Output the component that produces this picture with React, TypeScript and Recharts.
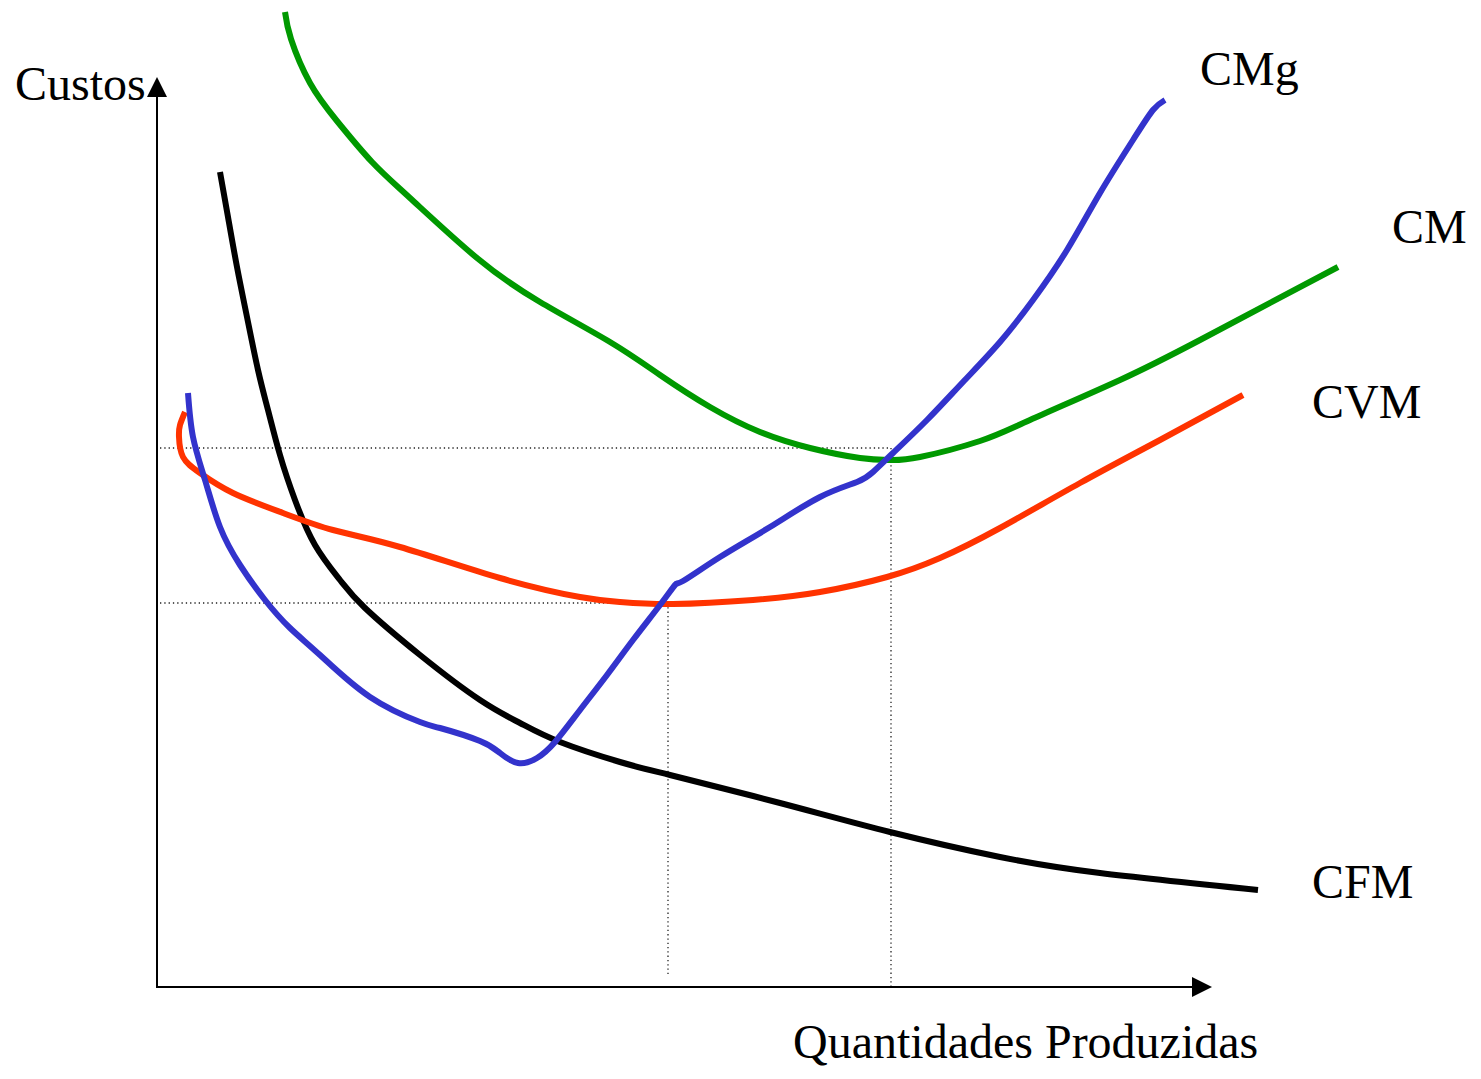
import React from "react";
import { LineChart, Line, XAxis, YAxis, ReferenceLine, ReferenceDot } from "recharts";

// Units: quantity (x) and cost (y), origin at the axes crossing
const cfm = [
  { x: 6.3, y: 81.5 }, { x: 7.1, y: 77.0 }, { x: 8.0, y: 72.0 }, { x: 9.0, y: 67.0 },
  { x: 10.1, y: 61.7 }, { x: 11.1, y: 57.7 }, { x: 12.3, y: 53.2 }, { x: 13.8, y: 48.7 },
  { x: 15.8, y: 44.2 }, { x: 18.3, y: 40.7 }, { x: 20.8, y: 37.9 }, { x: 26.3, y: 33.2 },
  { x: 32.3, y: 28.7 }, { x: 36.3, y: 26.4 }, { x: 40.3, y: 24.5 }, { x: 46.3, y: 22.5 },
  { x: 51.3, y: 21.2 }, { x: 62.3, y: 18.4 }, { x: 73.3, y: 15.5 }, { x: 84.3, y: 13.0 },
  { x: 94.3, y: 11.4 }, { x: 110.1, y: 9.7 },
];

const cmg = [
  { x: 3.1, y: 59.4 }, { x: 3.6, y: 55.0 }, { x: 4.8, y: 50.7 }, { x: 6.3, y: 46.0 },
  { x: 8.3, y: 42.2 }, { x: 10.8, y: 38.7 }, { x: 13.3, y: 35.9 }, { x: 16.3, y: 33.2 },
  { x: 21.3, y: 29.0 }, { x: 26.3, y: 26.5 }, { x: 28.3, y: 25.9 }, { x: 32.3, y: 24.6 },
  { x: 34.3, y: 23.4 }, { x: 36.1, y: 22.4 }, { x: 38.0, y: 22.9 }, { x: 39.8, y: 24.5 },
  { x: 42.3, y: 27.7 }, { x: 45.0, y: 31.2 }, { x: 47.6, y: 34.7 }, { x: 50.3, y: 38.2 },
  { x: 51.8, y: 40.2 }, { x: 52.6, y: 40.6 }, { x: 56.3, y: 43.0 }, { x: 61.3, y: 46.0 },
  { x: 66.3, y: 49.0 }, { x: 70.0, y: 50.5 }, { x: 71.6, y: 51.5 }, { x: 73.6, y: 53.4 },
  { x: 77.0, y: 56.7 }, { x: 80.6, y: 60.5 }, { x: 84.3, y: 64.5 }, { x: 87.6, y: 68.7 },
  { x: 91.0, y: 73.7 }, { x: 94.3, y: 79.4 }, { x: 97.6, y: 84.7 }, { x: 99.6, y: 87.7 },
  { x: 100.8, y: 88.7 },
];

const cvm = [
  { x: 2.8, y: 57.5 }, { x: 2.3, y: 56.2 }, { x: 2.2, y: 55.0 }, { x: 2.6, y: 53.0 },
  { x: 4.3, y: 51.4 }, { x: 7.6, y: 49.4 }, { x: 12.6, y: 47.4 }, { x: 17.6, y: 45.7 },
  { x: 24.3, y: 44.0 }, { x: 34.3, y: 40.9 }, { x: 42.3, y: 39.0 }, { x: 46.3, y: 38.5 },
  { x: 51.6, y: 38.3 }, { x: 59.6, y: 38.7 }, { x: 66.3, y: 39.5 }, { x: 73.0, y: 41.0 },
  { x: 78.3, y: 42.9 }, { x: 84.3, y: 45.9 }, { x: 92.3, y: 50.4 }, { x: 100.3, y: 54.7 },
  { x: 108.6, y: 59.2 },
];

const cm = [
  { x: 12.8, y: 97.5 }, { x: 13.4, y: 94.8 }, { x: 15.3, y: 90.4 },
  { x: 18.0, y: 86.6 }, { x: 21.5, y: 82.5 }, { x: 25.3, y: 78.9 }, { x: 32.0, y: 72.9 },
  { x: 38.3, y: 68.5 }, { x: 45.3, y: 64.5 }, { x: 50.3, y: 61.2 }, { x: 55.3, y: 58.0 },
  { x: 60.3, y: 55.5 }, { x: 65.3, y: 53.9 }, { x: 70.3, y: 52.9 }, { x: 73.3, y: 52.7 },
  { x: 76.3, y: 53.0 }, { x: 82.3, y: 54.6 }, { x: 87.3, y: 56.7 }, { x: 96.3, y: 60.7 },
  { x: 104.3, y: 64.7 }, { x: 118.1, y: 72.0 },
];

// Reference levels: min of CVM (and its quantity), min of CM (and its quantity)
const cvmMinQ = 51.1;
const cvmMinC = 38.4;
const cmMinQ = 73.4;
const cmMinC = 53.9;

const labels = [
  { text: "Custos", x: -14.2, y: 88.7 },
  { text: "CMg", x: 104.3, y: 90.2 },
  { text: "CM", x: 123.5, y: 74.4 },
  { text: "CVM", x: 115.5, y: 56.9 },
  { text: "CFM", x: 115.5, y: 8.9 },
  { text: "Quantidades Produzidas", x: 63.6, y: -7.1 },
];

const FONT = "'Liberation Serif', 'Times New Roman', serif";

const TextShape = (text: string) => (props: any) => (
  <text x={props.cx} y={props.cy} fontFamily={FONT} fontSize={48} fill="#000">
    {text}
  </text>
);

const ArrowUp = (props: any) => {
  const { cx, cy } = props;
  return <polygon points={`${cx},${cy} ${cx - 10},${cy + 20} ${cx + 10},${cy + 20}`} fill="#000" />;
};
const ArrowRight = (props: any) => {
  const { cx, cy } = props;
  return <polygon points={`${cx},${cy} ${cx - 20},${cy - 10} ${cx - 20},${cy + 10}`} fill="#000" />;
};

const SW = 6;

export default function App() {
  return (
    <div style={{ position: "absolute", left: 0, top: 0, width: 1481, height: 1079, background: "#fff" }}>
      <LineChart width={1481} height={1079} margin={{ top: 7, right: 124, bottom: 92, left: 157 }}>
        <XAxis dataKey="x" type="number" domain={[0, 120]} hide />
        <YAxis type="number" domain={[0, 98]} hide />
        {/* dotted guides */}
        <ReferenceLine segment={[{ x: 0.3, y: cmMinC }, { x: cmMinQ, y: cmMinC }]} stroke="#222" strokeWidth={1.3} strokeDasharray="1.3 3" ifOverflow="visible" />
        <ReferenceLine segment={[{ x: cmMinQ, y: cmMinC }, { x: cmMinQ, y: 0 }]} stroke="#222" strokeWidth={1.3} strokeDasharray="1.3 3" ifOverflow="visible" />
        <ReferenceLine segment={[{ x: 0.3, y: cvmMinC }, { x: cvmMinQ, y: cvmMinC }]} stroke="#222" strokeWidth={1.3} strokeDasharray="1.3 3" ifOverflow="visible" />
        <ReferenceLine segment={[{ x: cvmMinQ, y: cvmMinC }, { x: cvmMinQ, y: 1.2 }]} stroke="#222" strokeWidth={1.3} strokeDasharray="1.3 3" ifOverflow="visible" />
        {/* axes */}
        <ReferenceLine segment={[{ x: -0.1, y: 0 }, { x: 104, y: 0 }]} stroke="#000" strokeWidth={2} ifOverflow="visible" />
        <ReferenceLine segment={[{ x: 0, y: -0.1 }, { x: 0, y: 89.5 }]} stroke="#000" strokeWidth={2} ifOverflow="visible" />
        <ReferenceDot x={0} y={91} r={0} shape={ArrowUp} ifOverflow="visible" />
        <ReferenceDot x={105.5} y={0} r={0} shape={ArrowRight} ifOverflow="visible" />
        <Line data={cfm} dataKey="y" type="natural" stroke="#000000" strokeWidth={SW} dot={false} isAnimationActive={false} />
        <Line data={cvm} dataKey="y" type="natural" stroke="#FF3300" strokeWidth={SW} dot={false} isAnimationActive={false} />
        <Line data={cm} dataKey="y" type="natural" stroke="#009900" strokeWidth={SW} dot={false} isAnimationActive={false} />
        <Line data={cmg} dataKey="y" type="natural" stroke="#3333CC" strokeWidth={SW} dot={false} isAnimationActive={false} />
        {labels.map((l) => (
          <ReferenceDot key={l.text} x={l.x} y={l.y} r={0} shape={TextShape(l.text)} ifOverflow="visible" />
        ))}
      </LineChart>
    </div>
  );
}
